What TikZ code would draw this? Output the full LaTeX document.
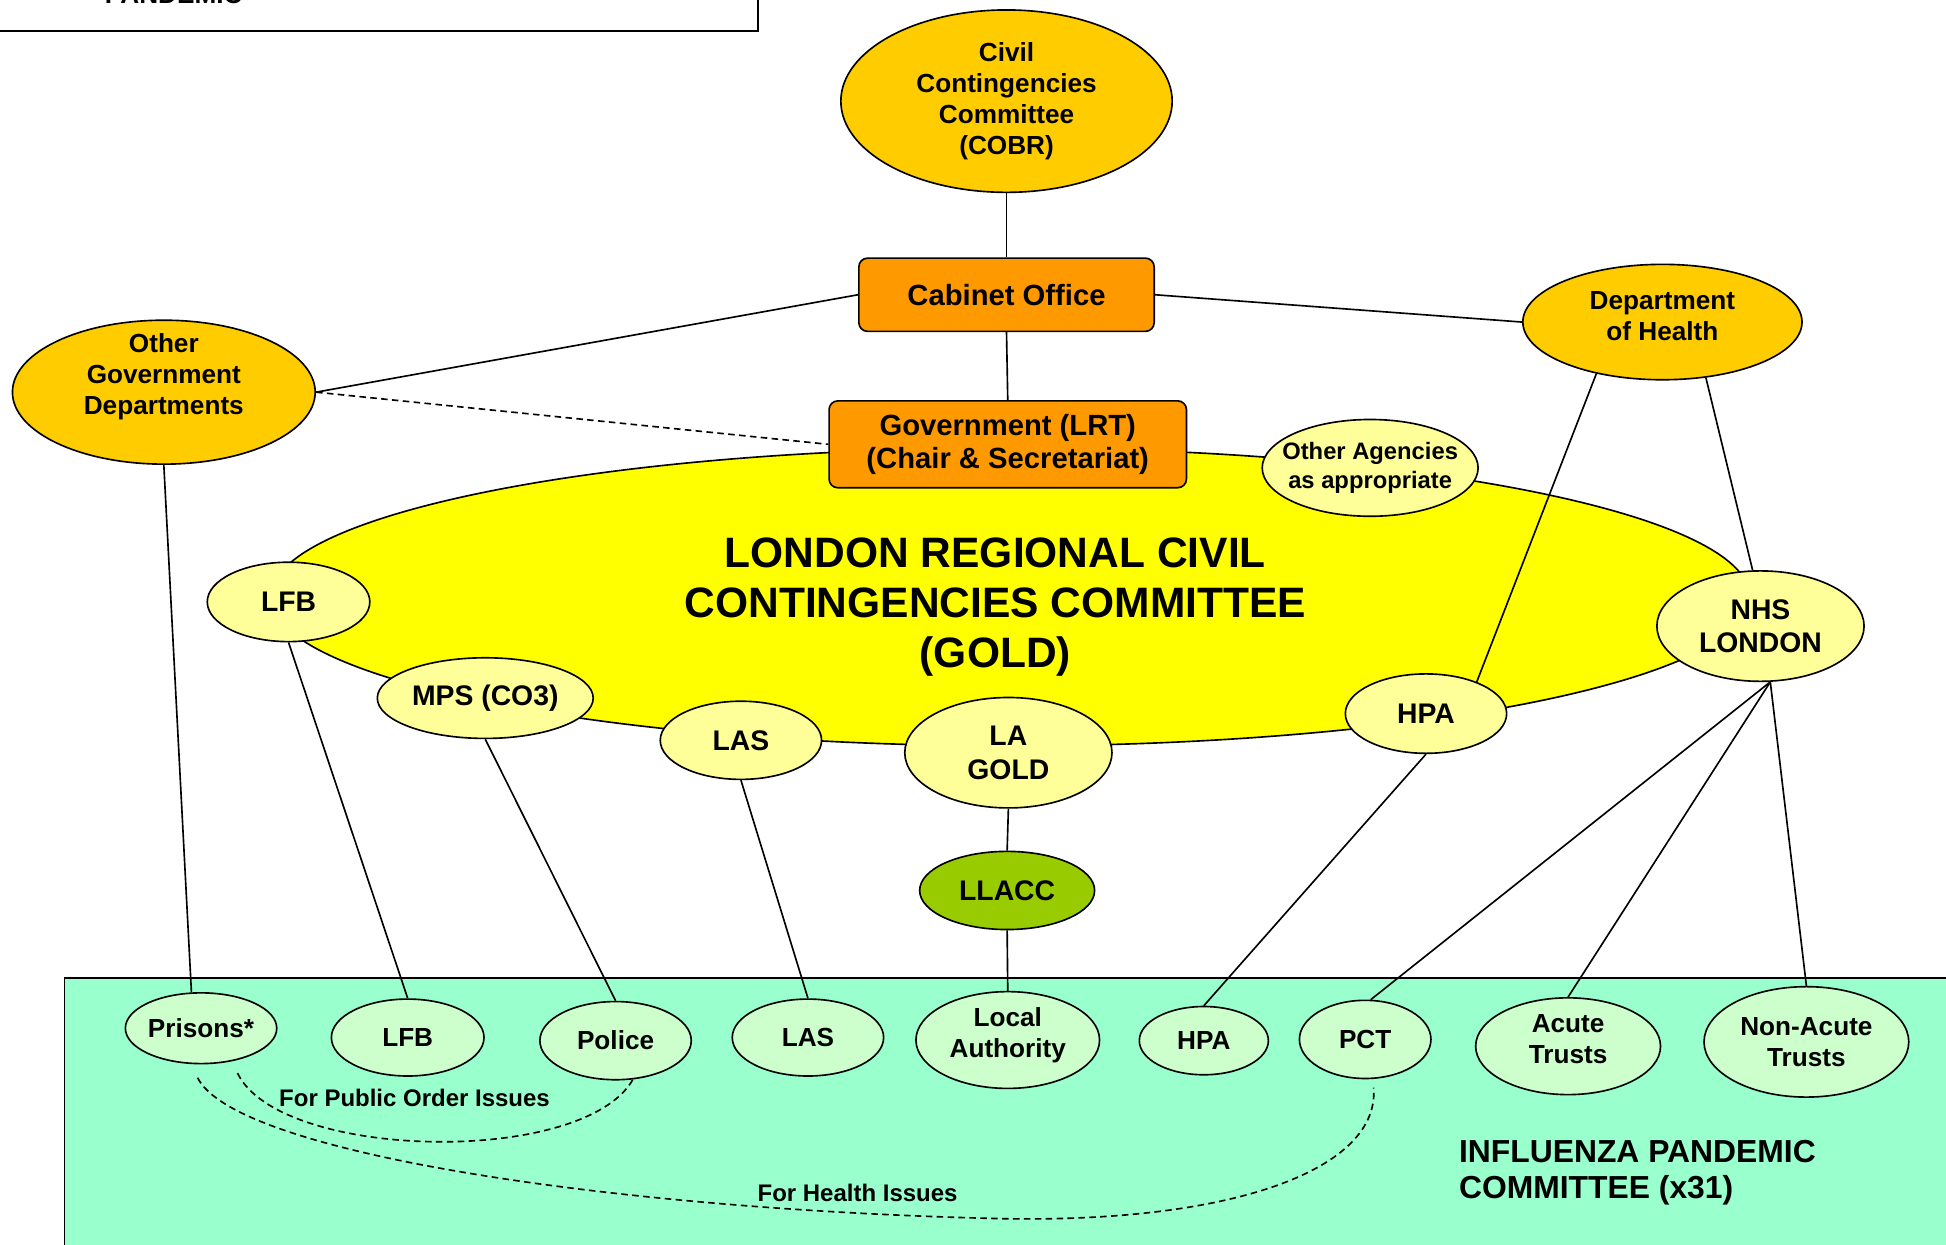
\documentclass[tikz,border=0pt]{standalone}
\usepackage{fontspec}
\setmainfont{Liberation Sans}
\usetikzlibrary{shapes.geometric, positioning}

\definecolor{cGold}{HTML}{FFCC00}
\definecolor{cOrange}{HTML}{FF9900}
\definecolor{cYellow}{HTML}{FFFF00}
\definecolor{cPale}{HTML}{FFFF99}
\definecolor{cLime}{HTML}{99CC00}
\definecolor{cSea}{HTML}{99FFCC}
\definecolor{cMint}{HTML}{CCFFCC}

\begin{document}
\begin{tikzpicture}[x=0.02cm, y=-0.02cm, line width=0.75pt]

\tikzset{oval/.style = {shape=ellipse, draw, inner xsep=-0.3cm, inner ysep=-0.1cm, align=center}}
\tikzset{dims/.style 2 args = {minimum width=#1cm, minimum height=#2cm}}
\tikzset{dept/.style = {oval, fill=cGold, font=\fontsize{12}{14.2}\selectfont\bfseries}}
\tikzset{agency/.style = {oval, fill=cPale, font=\fontsize{13}{15.4}\selectfont\bfseries}}
\tikzset{borough/.style = {oval, fill=cMint, font=\fontsize{12}{14.2}\selectfont\bfseries}}
\tikzset{inside/.style = {align=center, font=\fontsize{12}{14.2}\selectfont\bfseries}}
\tikzset{office/.style = {shape=rectangle, rounded corners=4pt, draw, fill=cOrange, align=center, font=\fontsize{13.4}{15.4}\selectfont\bfseries}}
\tikzset{note/.style = {font=\fontsize{11}{13}\selectfont\bfseries}}
\tikzset{every edge/.style = {draw, line width=0.75pt}}

\useasboundingbox (0,0) rectangle (1568,1003);

% frames
\draw (-20,-80) rectangle (611,25);
\node[anchor=base, font=\fontsize{12}{14}\selectfont\bfseries] (pandemic) at (140,3) {PANDEMIC};
\draw[fill=cSea] (52,788) rectangle (1620,1060);
\node[oval, fill=cYellow, dims={23.84}{4.8}] (gold) at (814,481) {};
\node[align=center, font=\fontsize{19.5}{22.8}\selectfont\bfseries] (goldtext) at (802,489)
  {LONDON REGIONAL CIVIL\\CONTINGENCIES COMMITTEE\\(GOLD)};

% national level
\node[dept, dims={5.34}{2.94}] (cobr) at (811,81.5) {Civil\\Contingencies\\Committee\\(COBR)};
\node[office, dims={4.76}{1.18}] (cab) at (811,237.5) {Cabinet Office};
\node[office, dims={5.76}{1.4}] (gov) at (812,358) {Government (LRT)\\(Chair \& Secretariat)};
\node[dept, dims={4.88}{2.32}, label={[inside, yshift=0.25cm]center:{Other\\Government\\Departments}}] (ogd) at (132,316) {};
\node[dept, dims={4.5}{1.86}, label={[inside, yshift=0.1cm]center:{Department\\of Health}}] (doh) at (1339.5,259.5) {};

% gold members
\node[oval, fill=cPale, dims={3.48}{1.56}, font=\fontsize{10.9}{13.1}\selectfont\bfseries] (other) at (1104,377) {Other Agencies\\as appropriate};
\node[agency, dims={2.62}{1.28}] (lfbg) at (232.5,485) {LFB};
\node[agency, dims={3.48}{1.3}] (mps) at (391,562.5) {MPS (CO3)};
\node[agency, dims={2.6}{1.26}] (lasg) at (597,596.5) {LAS};
\node[agency, dims={3.34}{1.78}] (lagold) at (812.5,606.5) {LA\\GOLD};
\node[agency, dims={2.6}{1.28}] (hpag) at (1149,575) {HPA};
\node[agency, dims={3.34}{1.78}] (nhs) at (1418.5,504.5) {NHS\\LONDON};
\node[oval, fill=cLime, dims={2.82}{1.26}, font=\fontsize{13}{15.4}\selectfont\bfseries] (llacc) at (811.5,717.5) {LLACC};

% pandemic committee
\node[borough, dims={2.44}{1.14}] (prisons) at (162,828.5) {Prisons*};
\node[borough, dims={2.46}{1.24}] (lfb) at (328.5,836) {LFB};
\node[borough, dims={2.44}{1.26}] (police) at (496,838.5) {Police};
\node[borough, dims={2.44}{1.24}] (las) at (651,836) {LAS};
\node[borough, dims={2.96}{1.56}, label={[inside, yshift=0.08cm]center:{Local\\Authority}}] (la) at (812,838) {};
\node[borough, dims={2.08}{1.1}] (hpa) at (970,838.5) {HPA};
\node[borough, dims={2.12}{1.26}] (pct) at (1100,837.5) {PCT};
\node[borough, dims={2.98}{1.56}, label={[inside, yshift=0.12cm]center:{Acute\\Trusts}}] (acute) at (1263.5,843) {};
\node[borough, dims={3.3}{1.78}] (nonacute) at (1455.5,839.5) {Non-Acute\\Trusts};
\node[anchor=west, inner sep=0pt, align=left, font=\fontsize{14.6}{16.5}\selectfont\bfseries] (ipc) at (1175,944.5)
  {INFLUENZA PANDEMIC\\COMMITTEE (x31)};

%edges
\path (cobr.south) edge (cab.north);
\path (cab.south) edge (gov.north);
\path (cab.west) edge (ogd.east);
\path (cab.east) edge (doh.west);
\path (ogd.east) edge[dash pattern=on 3pt off 2pt] (gov.west);
\path (ogd.south) edge (prisons.105);
\path (lfbg.south) edge (lfb.north);
\path (mps.south) edge (police.north);
\path (lasg.south) edge (las.north);
\path (lagold.south) edge (llacc.north);
\path (llacc.south) edge (la.north);
\path (hpag.south) edge (hpa.north);
\path (doh.218) edge (hpag.32);
\path (doh.308) edge (nhs.98);
\path (nhs.280) edge (pct.82);
\path (nhs.280) edge (acute.north);
\path (nhs.280) edge (nonacute.north);

% special links
\draw[dash pattern=on 3pt off 2pt, shorten <=6pt] (prisons.313) .. controls (225,935) and (470,940) .. (police.294);
\draw[dash pattern=on 3pt off 2pt, shorten <=7pt, shorten >=4pt] (prisons.254) .. controls (190,930) and (500,975) .. (810,982)
  .. controls (1000,985) and (1112,940) .. (pct.281);
\node[note] (publicorder) at (334,885) {For Public Order Issues};
\node[note] (health) at (691,961) {For Health Issues};
\end{tikzpicture}
\end{document}
